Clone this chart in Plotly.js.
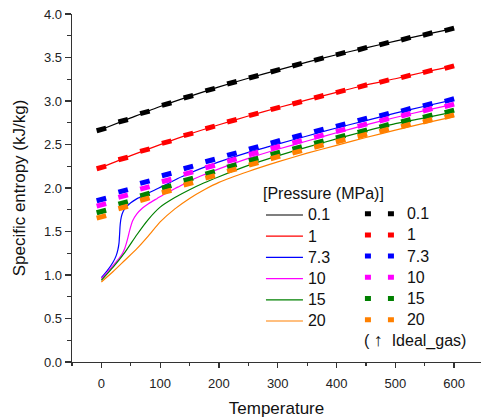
<!DOCTYPE html>
<html>
<head>
<meta charset="utf-8">
<script src="https://cdn.plot.ly/plotly-3.0.1.min.js"></script>
<style>html,body{margin:0;padding:0;background:#fff;}#chart{width:482px;height:419px;}</style>
</head>
<body>
<div id="chart"></div>
<script>
// Pressure labels (MPa)
const pressures = ['0.1', '1', '7.3', '10', '15', '20'];
const colors = ['#000000', '#ff0000', '#0000ff', '#ff00ff', '#008000', '#ff8000'];

// Ideal-gas entropy (markers)
const idealT = [0, 37, 74, 111, 148, 185, 222, 259, 296, 333, 370, 407, 444, 481, 518, 555, 592];
const ideal01 = [2.673, 2.773, 2.869, 2.965, 3.049, 3.130, 3.210, 3.279, 3.348, 3.417, 3.482, 3.544, 3.601, 3.659, 3.716, 3.770, 3.824];
const ideal1  = [2.236, 2.339, 2.435, 2.527, 2.616, 2.696, 2.773, 2.846, 2.915, 2.980, 3.049, 3.110, 3.172, 3.229, 3.283, 3.340, 3.390];
const ideal73 = [1.868, 1.967, 2.067, 2.155, 2.236, 2.316, 2.389, 2.462, 2.531, 2.596, 2.662, 2.723, 2.788, 2.842, 2.899, 2.957, 3.011];
const ideal10 = [1.806, 1.906, 2.002, 2.086, 2.171, 2.247, 2.320, 2.397, 2.466, 2.531, 2.596, 2.662, 2.723, 2.784, 2.842, 2.899, 2.949];
const ideal15 = [1.730, 1.829, 1.925, 2.013, 2.098, 2.175, 2.255, 2.328, 2.397, 2.462, 2.527, 2.589, 2.654, 2.715, 2.773, 2.826, 2.880];
const ideal20 = [1.668, 1.776, 1.871, 1.960, 2.048, 2.128, 2.205, 2.278, 2.351, 2.416, 2.481, 2.543, 2.604, 2.662, 2.719, 2.773, 2.826];

// Real-gas entropy (lines)
const lowT = [0, 50, 100, 150, 200, 250, 300, 350, 400, 450, 500, 550, 600];
const real01 = [2.673, 2.806, 2.937, 3.053, 3.162, 3.262, 3.355, 3.447, 3.532, 3.611, 3.688, 3.763, 3.835];
const real1  = [2.236, 2.372, 2.499, 2.620, 2.727, 2.828, 2.922, 3.013, 3.099, 3.184, 3.256, 3.333, 3.400];

const T73 = [0, 10, 20, 25, 28, 30, 31, 32, 34, 37, 42, 50, 60, 75, 90, 110, 130, 150, 170, 200, 250, 300, 350, 400, 450, 500, 550, 600];
const real73 = [0.97, 1.05, 1.15, 1.22, 1.29, 1.37, 1.47, 1.58, 1.67, 1.73, 1.78, 1.83, 1.875, 1.925, 1.975, 2.04, 2.11, 2.17, 2.225, 2.30, 2.41, 2.505, 2.598, 2.69, 2.775, 2.86, 2.94, 3.015];

const T10 = [0, 10, 20, 30, 36, 40, 44, 48, 53, 60, 70, 80, 95, 110, 130, 150, 170, 200, 250, 300, 350, 400, 450, 500, 550, 600];
const real10 = [0.96, 1.03, 1.11, 1.19, 1.25, 1.31, 1.40, 1.51, 1.62, 1.70, 1.77, 1.82, 1.88, 1.94, 2.01, 2.08, 2.14, 2.22, 2.34, 2.445, 2.54, 2.635, 2.725, 2.81, 2.89, 2.965];

const T15 = [0, 20, 40, 60, 80, 100, 125, 150, 175, 200, 250, 300, 350, 400, 450, 500, 550, 600];
const real15 = [0.94, 1.09, 1.26, 1.46, 1.64, 1.78, 1.89, 1.98, 2.06, 2.13, 2.26, 2.37, 2.47, 2.565, 2.655, 2.74, 2.805, 2.875];

const T20 = [0, 20, 40, 60, 80, 100, 125, 150, 175, 200, 250, 300, 350, 400, 450, 500, 550, 600];
const real20 = [0.92, 1.04, 1.17, 1.30, 1.45, 1.61, 1.76, 1.88, 1.98, 2.065, 2.19, 2.30, 2.40, 2.49, 2.58, 2.665, 2.745, 2.82];

const realX = [lowT, lowT, T73, T10, T15, T20];
const realY = [real01, real1, real73, real10, real15, real20];
const idealY = [ideal01, ideal1, ideal73, ideal10, ideal15, ideal20];

const FONT = 'Liberation Sans, Arial, sans-serif';
const big = s => '<span style="font-size:16px">' + s + '</span>';
const traces = [];
for (let i = 0; i < 6; i++) {
  traces.push({
    x: realX[i], y: realY[i], type: 'scatter', mode: 'lines',
    name: big(pressures[i]), legend: 'legend',
    line: {color: colors[i], width: 1.2, shape: 'spline', smoothing: 0.6}
  });
}
for (let i = 0; i < 6; i++) {
  traces.push({
    x: idealT, y: idealY[i], type: 'scatter', mode: 'markers',
    showlegend: false, hoverinfo: 'skip',
    marker: {symbol: 'line-ew', size: 7, angle: -15, color: colors[i],
             line: {color: colors[i], width: 5}}
  });
}
// legend entries for ideal gas (dashed samples)
for (let i = 0; i < 6; i++) {
  traces.push({
    x: [null], y: [null], type: 'scatter', mode: 'lines',
    name: big(pressures[i]), legend: 'legend2',
    line: {color: colors[i], width: 5, dash: '6px,17px'}
  });
}

const axisFont = {family: FONT, size: 13, color: '#222'};
const layout = {
  width: 482, height: 419,
  margin: {l: 72, r: 1, t: 14, b: 57},
  paper_bgcolor: '#fff', plot_bgcolor: '#fff',
  font: {family: FONT, color: '#111'},
  showlegend: true,
  xaxis: {
    range: [-50, 645.8], tick0: 0, dtick: 100, ticks: 'outside', ticklen: 5, tickwidth: 1.2,
    tickcolor: '#333', showline: true, linecolor: '#333', linewidth: 1.3,
    showgrid: false, zeroline: false, tickfont: axisFont, ticklabelstandoff: 4,
    minor: {dtick: 50, ticks: 'outside', ticklen: 3, tickwidth: 1.2, tickcolor: '#333'},
    title: {text: 'Temperature', font: {family: FONT, size: 17, color: '#111'}, standoff: 12}
  },
  yaxis: {
    range: [0, 4.0], tick0: 0, dtick: 0.5, tickformat: '.1f', ticks: 'outside', ticklen: 6, tickwidth: 1.2,
    tickcolor: '#333', showline: true, linecolor: '#333', linewidth: 1.3,
    showgrid: false, zeroline: false, tickfont: axisFont,
    minor: {dtick: 0.25, ticks: 'outside', ticklen: 4, tickwidth: 1.2, tickcolor: '#333'},
    title: {text: 'Specific entropy (kJ/kg)', font: {family: FONT, size: 17, color: '#111'}, standoff: 14}
  },
  legend: {
    x: 0.462, y: 0.527, xanchor: 'left', yanchor: 'top', bgcolor: 'rgba(0,0,0,0)',
    font: {family: FONT, size: 14, color: '#111'}, itemwidth: 37, tracegroupgap: 0,
    title: {text: '[Pressure (MPa)]', font: {family: FONT, size: 16, color: '#111'}}
  },
  legend2: {
    x: 0.704, y: 0.471, xanchor: 'left', yanchor: 'top', bgcolor: 'rgba(0,0,0,0)',
    font: {family: FONT, size: 14, color: '#111'}, itemwidth: 37, tracegroupgap: 0
  },
  annotations: [{
    xref: 'paper', yref: 'paper', x: 0.8386, y: 0.063, xanchor: 'center', yanchor: 'middle',
    text: '( <span style="font-size:18px">↑</span>  Ideal_gas)', showarrow: false, font: {family: FONT, size: 16, color: '#111'}
  }]
};
Plotly.newPlot('chart', traces, layout, {displayModeBar: false, staticPlot: true});
</script>
</body>
</html>
